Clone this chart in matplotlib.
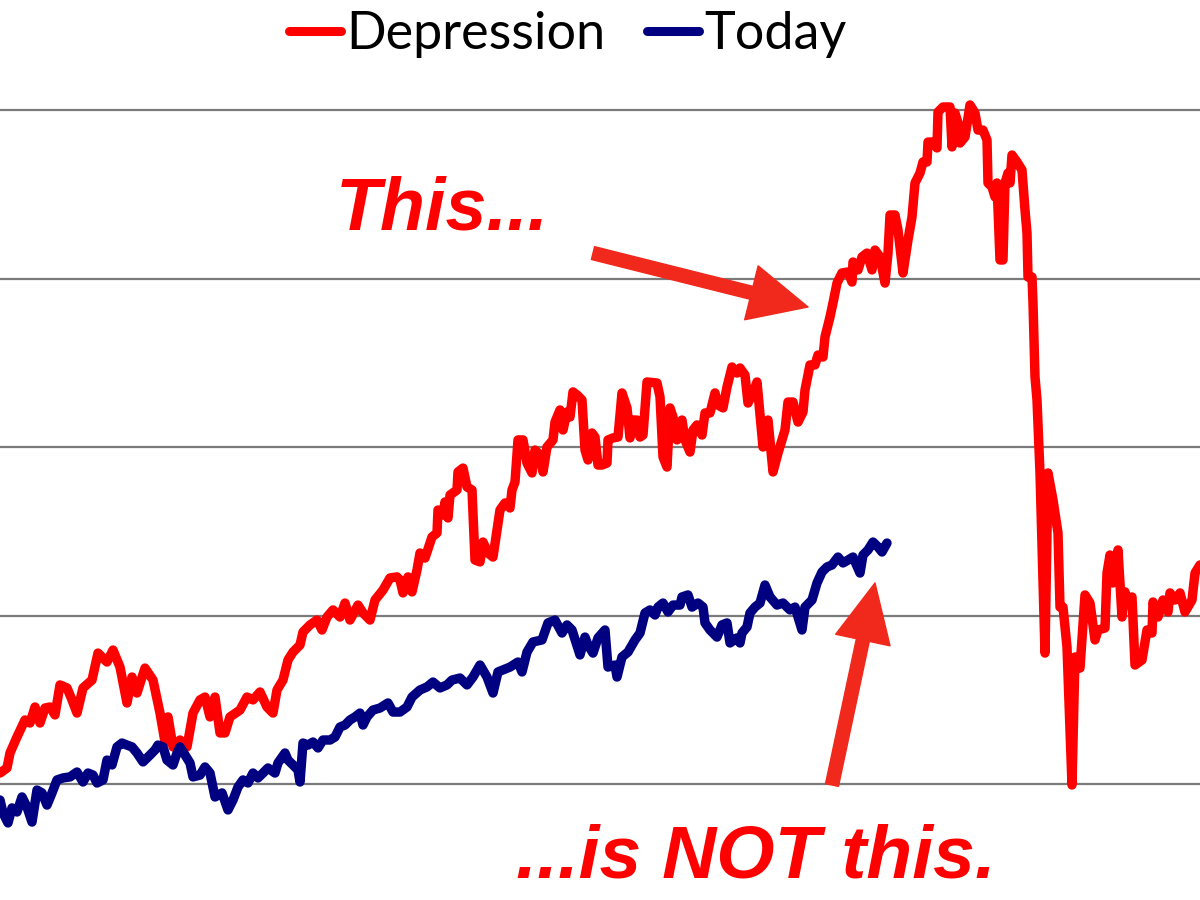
import matplotlib
matplotlib.use("Agg")
import matplotlib.pyplot as plt
from matplotlib.lines import Line2D

# index levels (gridlines at 100, 200, 300, 400, 500)
depr_wk = [0, 7, 10, 17, 25, 30, 35, 40, 45, 50, 55, 60, 67, 72, 77, 83, 92, 98, 107, 113,
           120, 127, 132, 137, 145, 153, 160, 165, 168, 173, 180, 187, 193, 200, 205, 210,
           215, 220, 225, 230, 240, 247, 253, 260, 267, 273, 277, 283, 288, 293, 300, 303,
           310, 317, 322, 327, 333, 340, 345, 350, 358, 363, 370, 375, 383, 390, 397, 400,
           403, 408, 412, 417, 420, 425, 432, 437, 438, 443, 445, 448, 450, 457, 458, 463,
           467, 472, 475, 480, 483, 488, 493, 497, 500, 505, 510, 512, 515, 518, 523, 527,
           532, 535, 540, 543, 547, 553, 555, 560, 563, 567, 570, 573, 577, 582, 585, 588,
           592, 595, 598, 602, 607, 608, 613, 618, 622, 627, 630, 633, 637, 640, 643, 647,
           657, 660, 663, 667, 670, 673, 677, 682, 685, 690, 693, 697, 702, 705, 710, 715,
           718, 723, 727, 732, 737, 740, 745, 748, 753, 757, 760, 763, 768, 773, 778, 785,
           788, 793, 798, 803, 805, 810, 815, 818, 823, 825, 830, 833, 837, 842, 848, 852,
           853, 858, 862, 867, 872, 875, 880, 885, 888, 890, 895, 898, 903, 908, 912, 915,
           920, 923, 927, 928, 933, 937, 938, 943, 950, 952, 955, 958, 960, 965, 970, 975,
           978, 983, 987, 988, 992, 995, 997, 1000, 1003, 1005, 1008, 1010, 1012, 1017,
           1022, 1025, 1027, 1028, 1032, 1033, 1035, 1037, 1040, 1045, 1048, 1053, 1058,
           1060, 1063, 1067, 1072, 1075, 1080, 1085, 1090, 1095, 1098, 1105, 1107, 1110,
           1113, 1118, 1122, 1125, 1128, 1132, 1135, 1142, 1147, 1152, 1153, 1158, 1163,
           1168, 1170, 1175, 1180, 1185, 1192, 1195, 1200]
depression = [106.5, 109.5, 118.4, 127.9, 138.0, 136.2, 145.7, 136.2, 145.1, 145.7, 141.0,
              158.8, 157.0, 149.9, 142.1, 157.0, 161.7, 177.7, 172.4, 179.5, 169.4, 148.1,
              163.5, 154.0, 168.8, 161.7, 142.1, 124.9, 139.8, 122.0, 126.1, 122.0, 142.1,
              149.9, 151.6, 139.8, 151.6, 130.3, 130.3, 139.8, 143.9, 151.6, 149.9, 154.6,
              145.7, 142.1, 155.8, 161.7, 173.6, 178.3, 182.5, 190.2, 194.4, 197.3, 191.4,
              199.1, 203.3, 199.1, 207.4, 197.3, 206.2, 201.5, 197.3, 209.2, 215.1, 222.3,
              222.9, 221.1, 213.4, 222.9, 214.0, 227.0, 237.1, 234.1, 246.6, 249.0, 262.6,
              259.7, 267.4, 257.9, 271.5, 274.5, 285.2, 287.5, 276.3, 274.5, 232.9, 231.8,
              243.6, 237.1, 234.7, 250.7, 262.6, 266.8, 263.8, 274.5, 279.2, 304.2, 304.2,
              290.5, 284.6, 298.2, 295.3, 285.2, 300.0, 304.2, 314.8, 322.0, 310.1, 320.8,
              317.8, 332.7, 330.9, 327.9, 298.2, 292.3, 308.3, 305.9, 289.3, 289.3, 290.5,
              304.2, 305.4, 305.9, 332.1, 323.2, 305.4, 316.0, 316.0, 305.9, 307.1, 338.6,
              338.0, 329.7, 294.1, 288.1, 323.2, 317.8, 304.2, 316.0, 304.2, 297.0, 310.1,
              313.1, 307.1, 320.2, 320.2, 332.1, 324.9, 323.2, 335.6, 347.5, 343.9, 346.9,
              342.7, 326.1, 332.1, 338.6, 319.0, 300.0, 316.0, 285.2, 296.4, 310.1, 326.7,
              326.7, 314.8, 320.8, 333.8, 348.7, 348.7, 354.6, 353.4, 365.3, 377.2, 385.5,
              397.3, 403.3, 403.9, 397.9, 409.8, 405.1, 412.8, 415.1, 405.1, 416.9, 412.8,
              397.3, 415.1, 437.7, 437.7, 428.8, 403.3, 422.9, 436.5, 456.7, 462.6, 469.2,
              469.2, 481.0, 481.0, 477.5, 498.8, 501.8, 501.8, 478.1, 498.2, 492.3, 480.4,
              484.0, 503.0, 498.2, 488.1, 488.1, 482.2, 456.7, 454.3, 448.4, 456.7, 411.0,
              411.0, 456.7, 462.6, 456.7, 473.3, 469.2, 464.4, 440.7, 427.0, 400.9, 400.9,
              385.5, 341.6, 327.9, 284.6, 177.7, 284.6, 268.6, 249.0, 205.0, 205.0, 181.3,
              99.4, 175.4, 168.8, 212.2, 207.4, 185.5, 191.4, 192.6, 225.2, 235.9, 219.3,
              238.9, 199.1, 214.0, 207.4, 211.0, 170.6, 173.6, 191.4, 189.6, 208.0, 199.1,
              209.2, 202.1, 213.4, 209.2, 213.4, 202.1, 209.2, 225.2, 230.0]

today_wk = [0, 3, 8, 12, 17, 22, 27, 32, 37, 42, 47, 52, 57, 63, 70, 77, 83, 88, 93, 97,
            103, 107, 112, 117, 122, 127, 132, 137, 143, 148, 155, 158, 163, 167, 173, 177,
            180, 185, 190, 193, 200, 205, 210, 215, 222, 228, 233, 238, 243, 248, 253, 258,
            263, 268, 275, 278, 285, 288, 293, 298, 300, 303, 308, 313, 318, 323, 330, 335,
            340, 345, 350, 355, 360, 363, 367, 373, 380, 388, 393, 400, 407, 412, 420, 427,
            433, 440, 447, 452, 460, 467, 473, 480, 487, 493, 498, 510, 518, 522, 527, 533,
            542, 548, 555, 562, 567, 572, 580, 585, 588, 593, 598, 605, 608, 615, 617, 622,
            628, 635, 640, 645, 650, 655, 658, 663, 668, 673, 680, 682, 688, 692, 698, 703,
            705, 710, 717, 722, 727, 730, 737, 740, 742, 747, 750, 755, 760, 765, 770, 777,
            783, 790, 795, 802, 805, 812, 817, 822, 827, 832, 838, 843, 848, 853, 860, 863,
            868, 873, 878, 882, 887]
today = [90.5, 82.8, 76.9, 85.8, 83.4, 92.3, 86.3, 77.4, 96.4, 94.7, 87.5, 94.7, 102.4,
         103.6, 104.2, 107.1, 101.2, 106.5, 105.3, 100.6, 102.4, 114.2, 111.3, 122.0, 124.3,
         123.1, 122.0, 118.4, 113.1, 116.0, 120.2, 123.1, 122.0, 114.2, 111.3, 118.4, 122.0,
         117.2, 112.5, 104.2, 105.3, 110.1, 106.5, 92.3, 94.7, 84.6, 90.5, 98.2, 102.4, 100.6,
         106.5, 103.6, 106.5, 109.5, 106.5, 112.5, 118.4, 114.2, 111.3, 108.3, 101.2, 124.3,
         123.1, 124.9, 121.4, 126.1, 126.1, 127.9, 133.8, 135.0, 138.0, 139.8, 142.1, 135.0,
         139.8, 143.9, 145.1, 148.1, 142.7, 142.7, 145.7, 151.6, 155.8, 157.6, 160.5, 157.0,
         158.8, 161.7, 162.9, 158.8, 163.5, 170.6, 163.5, 154.0, 166.5, 169.4, 172.4, 166.5,
         178.3, 184.3, 185.5, 195.6, 197.3, 189.6, 194.4, 191.4, 176.6, 187.2, 182.5, 177.7,
         186.7, 191.4, 169.4, 170.6, 163.5, 175.4, 178.3, 185.5, 189.6, 201.5, 203.3, 200.3,
         205.0, 207.4, 202.1, 206.2, 206.2, 211.0, 212.2, 205.0, 207.4, 205.0, 195.6, 191.4,
         187.2, 194.4, 195.6, 183.7, 186.7, 183.7, 189.6, 193.2, 201.5, 205.0, 207.4, 218.1,
         211.0, 206.2, 207.4, 203.3, 205.0, 191.4, 205.0, 209.2, 219.3, 225.8, 228.8, 230.0,
         234.7, 231.2, 232.9, 234.7, 225.2, 235.9, 238.9, 243.6, 240.7, 237.7, 243.0]

grid_levels = [100, 200, 300, 400, 500]

RED = "#ff0000"
NAVY = "#000080"
ARROW = "#f0291c"

fig = plt.figure(figsize=(12, 9), dpi=100)
ax = fig.add_axes([0, 0, 1, 1])

ax.plot(depr_wk, depression, color=RED, lw=6.8, solid_joinstyle="round",
        solid_capstyle="round", zorder=3)
ax.plot(today_wk, today, color=NAVY, lw=6.8, solid_joinstyle="round",
        solid_capstyle="round", zorder=4)

ax.set_xlim(0, 1200)
ax.set_ylim(31.15, 565.3)
ax.set_yticks(grid_levels)
ax.set_xticks([])
ax.yaxis.grid(True, color="#7a7a7a", lw=1.6)
ax.tick_params(left=False, labelleft=False)
for s in ax.spines.values():
    s.set_visible(False)

# legend at the top
handles = [Line2D([], [], color=RED, lw=6.5, solid_capstyle="round"),
           Line2D([], [], color=NAVY, lw=6.5, solid_capstyle="round")]
ax.legend(handles, ["Depression", "Today"], loc="center", bbox_to_anchor=(0.473, 1 - 35 / 900),
          ncol=2, frameon=False, prop={"family": "Lato", "size": 37.5},
          handlelength=1.0, handletextpad=0.1, columnspacing=0.8, borderpad=0)

# arrows
arrow_style = "simple,head_length=4.2,head_width=4.0,tail_width=0.95"
ax.annotate("", xy=(808, 383.1), xytext=(593, 415.1),
            arrowprops=dict(arrowstyle=arrow_style, color=ARROW, mutation_scale=10,
                            shrinkA=0, shrinkB=0), zorder=5)
ax.annotate("", xy=(875, 219.3), xytext=(832, 99.4),
            arrowprops=dict(arrowstyle=arrow_style, color=ARROW, mutation_scale=10,
                            shrinkA=0, shrinkB=0), zorder=5)

fig.text(336 / 1200, 1 - 230 / 900, "This...", color=RED, fontsize=53,
         family="Liberation Sans", weight="bold", style="italic", va="baseline", ha="left")
fig.text(516 / 1200, 1 - 877 / 900, "...is NOT this.", color=RED, fontsize=54,
         family="Liberation Sans", weight="bold", style="italic", va="baseline", ha="left")

fig.savefig("out.png", dpi=100)
